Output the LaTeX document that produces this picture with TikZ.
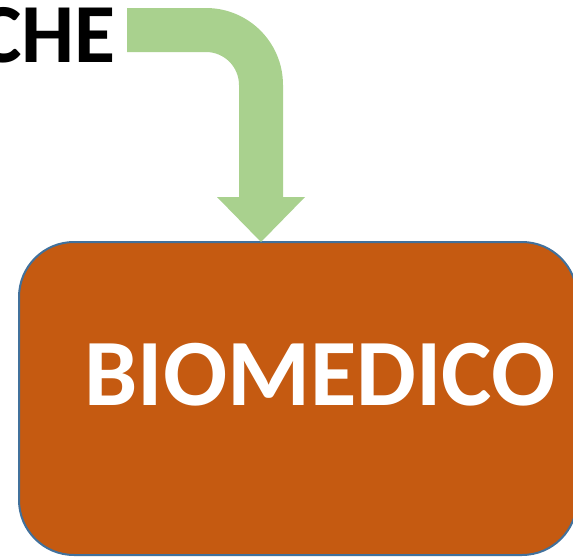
\documentclass[tikz,border=0pt]{standalone}
\usepackage{fontspec}
\setmainfont{Carlito}
\definecolor{arrowgreen}{HTML}{A9D18E}
\definecolor{boxorange}{HTML}{C55A11}
\definecolor{boxblue}{HTML}{41719C}
\begin{document}
\begin{tikzpicture}[x=1pt,y=-1pt,
  mainbox/.style={draw=boxblue, line width=2pt, fill=boxorange, rounded corners=55pt},
  boxtext/.style={text=white, font=\fontsize{95}{95}\selectfont\bfseries},
  toptext/.style={text=black, font=\fontsize{84}{84}\selectfont\bfseries, anchor=base east, inner sep=0pt}]
\useasboundingbox (0,0) rectangle (573,557);
\clip (0,0) rectangle (573,557);
\fill[white] (0,0) rectangle (573,557);
% box
\draw[mainbox] (19,242) rectangle (577,555);
\node[boxtext] (bio) at (320,375) {BIOMEDICO};
\coordinate (box) at (261,242);
% top text
\node[toptext] (che) at (116,62) {CHE};
% bent arrow
\fill[arrowgreen] (127,8) -- (206,8) arc[start angle=-90, end angle=0, radius=77] -- (283,197) -- (305,197) -- (box) -- (217,197) -- (239,197) -- (239,85) arc[start angle=0, end angle=-90, radius=33] -- (127,52) -- cycle;
\end{tikzpicture}
\end{document}
